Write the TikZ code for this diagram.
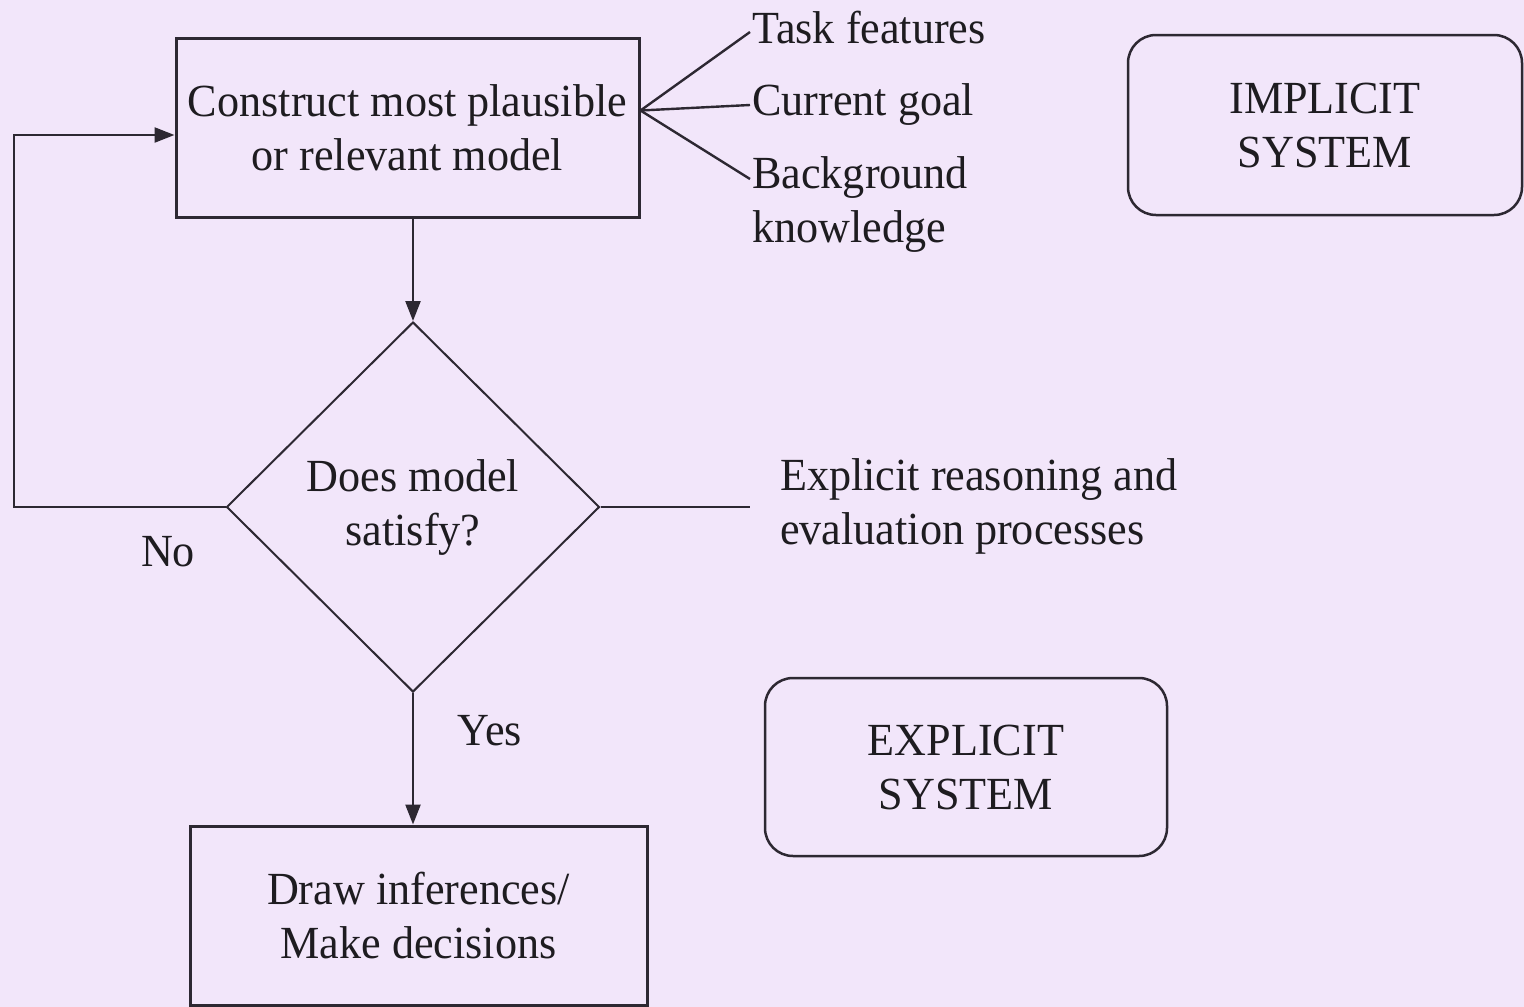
\documentclass[tikz,border=0pt]{standalone}
\usepackage{fontspec}
\setmainfont{Liberation Serif}[FakeStretch=0.96]
\usetikzlibrary{shapes.geometric,arrows.meta}
\definecolor{bgc}{RGB}{242,230,250}
\definecolor{ink}{RGB}{45,40,50}
\definecolor{txt}{RGB}{30,28,32}
\begin{document}
\begin{tikzpicture}[x=1pt,y=-1pt,
  font=\fontsize{46}{54}\selectfont, text=txt,
  box/.style={draw=ink, line width=3pt, align=center, inner sep=0pt},
  sysbox/.style={draw=ink, line width=2.5pt, rounded corners=28pt, align=center, inner sep=0pt},
  conn/.style={draw=ink, line width=2.4pt},
  tip/.style={-{Triangle[length=20pt,width=15pt]}},
  lbl/.style={inner sep=0pt},
  side/.style={anchor=west, align=left, inner sep=2pt}]
\fill[bgc] (0,0) rectangle (1524,1007);
\useasboundingbox (0,0) rectangle (1524,1007);

% main nodes
\node[box, minimum width=463pt, minimum height=179pt] (top) at (407.5,127.5)
  {Construct most plausible\\or relevant model};
\node[diamond, draw=ink, line width=2pt, minimum width=373pt, minimum height=370pt,
  inner sep=0pt, align=center] (d) at (413,507) {Does model\\satisfy?};
\node[box, minimum width=457pt, minimum height=179pt] (bot) at (418.5,915.5)
  {Draw inferences/\\Make decisions};

% system boxes
\node[sysbox, minimum width=394pt, minimum height=180pt] (imp) at (1325,125) {IMPLICIT\\SYSTEM};
\node[sysbox, minimum width=402pt, minimum height=178pt] (exp) at (966,767) {EXPLICIT\\SYSTEM};

% side texts
\node[side] (task) at (750,28) {Task features};
\node[side] (goal) at (750,105) {Current goal};
\node[side] (bg) at (750,205) {Background\\knowledge};
\node[anchor=west, align=left, inner xsep=30pt, inner ysep=0pt] (expl) at (750,506)
  {Explicit reasoning and\\evaluation processes};

% labels
\node[lbl] (no) at (168,552) {No};
\node[lbl] (yes) at (490,731) {Yes};

% connectors
\coordinate (fan) at ([yshift=17pt]top.east);
\coordinate (lp) at (14,0);
\draw[conn] (fan) -- ([yshift=-4pt]task.west);
\draw[conn] (fan) -- (goal.west);
\draw[conn] (fan) -- ([yshift=26pt]bg.west);
\draw[conn, tip] (top.south -| d.north) -- (d.north);
\draw[conn, tip] (d.south) -- (d.south |- bot.north);
\draw[conn, tip] (d.west) -- (d.west -| lp) |- ([yshift=-7.5pt]top.west);
\draw[conn] (d.east) -- (d.east -| expl.west);
\end{tikzpicture}
\end{document}
